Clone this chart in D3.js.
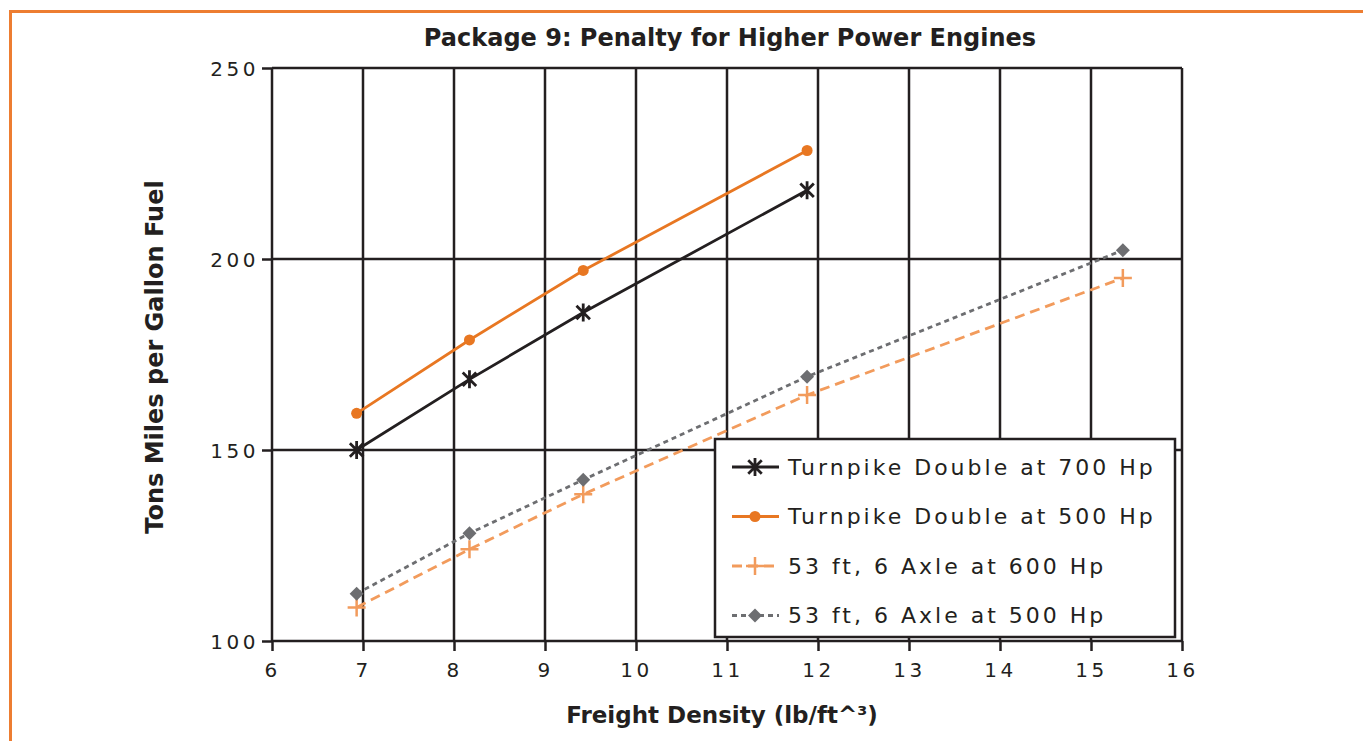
<!DOCTYPE html>
<html>
<head>
<meta charset="utf-8">
<script src="https://cdn.jsdelivr.net/npm/d3@7"></script>
<style>
  body { margin: 0; background: #fff; }
  svg { display: block; }
</style>
</head>
<body>
<svg id="chart" width="1363" height="741"></svg>
<script>
// data
const xTicks = [6, 7, 8, 9, 10, 11, 12, 13, 14, 15, 16]
const yTicks = [100, 150, 200, 250]

const density = [6.93, 8.17, 9.42, 11.88, 15.35]

const turnpike700 = [150, 168.5, 186, 218]
const turnpike500 = [159.6, 178.8, 197, 228.4]
const axle600 = [108.8, 124, 138.4, 164.4, 195]
const axle500 = [112.4, 128.2, 142.2, 169.2, 202.3]

const seriesNames = [
  'Turnpike Double at 700 Hp',
  'Turnpike Double at 500 Hp',
  '53 ft, 6 Axle at 600 Hp',
  '53 ft, 6 Axle at 500 Hp'
]

const ink = '#231f20'
const series = [
  { name: seriesNames[0], values: turnpike700, color: ink, dash: null, marker: 'star' },
  { name: seriesNames[1], values: turnpike500, color: '#e87722', dash: null, marker: 'circle' },
  { name: seriesNames[2], values: axle600, color: '#f29b5c', dash: '10,6', marker: 'plus' },
  { name: seriesNames[3], values: axle500, color: '#6d6e71', dash: '5,4', marker: 'diamond' }
]

const svg = d3.select('#chart')
const font = "'DejaVu Sans', sans-serif"

// orange frame
svg.append('path')
  .attr('d', 'M10.5,741 L10.5,11.5 L1363,11.5')
  .attr('fill', 'none')
  .attr('stroke', '#ed7d31')
  .attr('stroke-width', 3)

const plot = { left: 272, right: 1182, top: 68, bottom: 641 }

const x = d3.scaleLinear().domain([6, 16]).range([plot.left, plot.right])
const y = d3.scaleLinear().domain([100, 250]).range([plot.bottom, plot.top])

// grid
const grid = svg.append('g')
grid.selectAll('line.v')
  .data(xTicks)
  .enter().append('line')
  .attr('x1', d => x(d)).attr('x2', d => x(d))
  .attr('y1', plot.top).attr('y2', plot.bottom)
  .attr('stroke', ink).attr('stroke-width', 2.5)
grid.selectAll('line.h')
  .data(yTicks)
  .enter().append('line')
  .attr('x1', plot.left).attr('x2', plot.right)
  .attr('y1', d => y(d)).attr('y2', d => y(d))
  .attr('stroke', ink).attr('stroke-width', 2.5)

// axes
const xAxis = svg.append('g')
  .attr('transform', `translate(0,${plot.bottom})`)
  .call(d3.axisBottom(x).tickValues(xTicks).tickSize(10).tickPadding(12).tickFormat(d3.format('d')))
const yAxis = svg.append('g')
  .attr('transform', `translate(${plot.left},0)`)
  .call(d3.axisLeft(y).tickValues(yTicks).tickSize(10).tickPadding(3).tickFormat(d3.format('d')))

;[xAxis, yAxis].forEach(ax => {
  ax.select('.domain').remove()
  ax.selectAll('.tick line').attr('stroke', ink).attr('stroke-width', 2.5)
  ax.selectAll('.tick text')
    .attr('fill', ink)
    .style('font-family', font)
    .style('font-size', '20px')
    .style('letter-spacing', '3.5px')
})
yAxis.selectAll('.tick text').attr('dy', '0.35em')

// series lines and markers
const line = d3.line()
  .x((d, i) => x(density[i]))
  .y(d => y(d))

function drawMarker(g, type, color, cx, cy, scale) {
  const s = scale || 1
  if (type === 'circle') {
    g.append('circle').attr('cx', cx).attr('cy', cy).attr('r', 5.5 * s).attr('fill', color)
  } else if (type === 'diamond') {
    const r = 7 * s
    g.append('path')
      .attr('d', `M${cx},${cy - r} L${cx + r},${cy} L${cx},${cy + r} L${cx - r},${cy} Z`)
      .attr('fill', color)
  } else if (type === 'plus') {
    const r = 9 * s
    g.append('path')
      .attr('d', `M${cx - r},${cy} L${cx + r},${cy} M${cx},${cy - r} L${cx},${cy + r}`)
      .attr('stroke', color).attr('stroke-width', 2.5)
  } else if (type === 'star') {
    const r = 9 * s
    const d = r * 0.75
    g.append('path')
      .attr('d', `M${cx},${cy - r} L${cx},${cy + r} M${cx - d},${cy - d} L${cx + d},${cy + d} M${cx - d},${cy + d} L${cx + d},${cy - d}`)
      .attr('stroke', color).attr('stroke-width', 2.8)
  }
}

const seriesG = svg.append('g')
series.forEach(s => {
  seriesG.append('path')
    .datum(s.values)
    .attr('d', line)
    .attr('fill', 'none')
    .attr('stroke', s.color)
    .attr('stroke-width', 2.8)
    .attr('stroke-dasharray', s.dash)
  s.values.forEach((v, i) => drawMarker(seriesG, s.marker, s.color, x(density[i]), y(v)))
})

// legend
const legend = svg.append('g').attr('transform', 'translate(715,439)')
legend.append('rect')
  .attr('width', 460).attr('height', 198)
  .attr('fill', '#fff')
  .attr('stroke', ink).attr('stroke-width', 2.5)

series.forEach((s, i) => {
  const ly = 28 + i * 49.5
  const row = legend.append('g')
  row.append('line')
    .attr('x1', 17).attr('x2', 64)
    .attr('y1', ly).attr('y2', ly)
    .attr('stroke', s.color).attr('stroke-width', 2.8)
    .attr('stroke-dasharray', s.dash)
  drawMarker(row, s.marker, s.color, 40, ly)
  row.append('text')
    .attr('x', 73).attr('y', ly)
    .attr('dy', '0.35em')
    .attr('fill', ink)
    .style('font-family', font)
    .style('font-size', '22px')
    .style('letter-spacing', '3px')
    .text(s.name)
})

// titles
svg.append('text')
  .attr('x', 730).attr('y', 46)
  .attr('text-anchor', 'middle')
  .attr('fill', ink)
  .style('font-family', font)
  .style('font-size', '24px')
  .style('font-weight', 'bold')
  .text('Package 9: Penalty for Higher Power Engines')

svg.append('text')
  .attr('x', 722).attr('y', 723)
  .attr('text-anchor', 'middle')
  .attr('fill', ink)
  .style('font-family', font)
  .style('font-size', '23px')
  .style('font-weight', 'bold')
  .text('Freight Density (lb/ft^³)')

svg.append('text')
  .attr('transform', 'translate(163,357) rotate(-90)')
  .attr('text-anchor', 'middle')
  .attr('fill', ink)
  .style('font-family', font)
  .style('font-size', '24px')
  .style('font-weight', 'bold')
  .text('Tons Miles per Gallon Fuel')
</script>
</body>
</html>
